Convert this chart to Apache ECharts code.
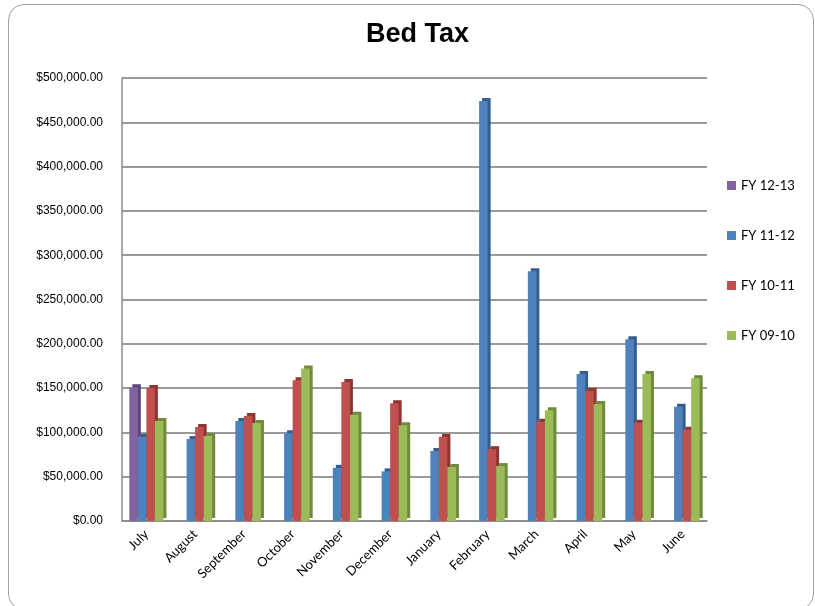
<!DOCTYPE html>
<html><head><meta charset="utf-8">
<script src="https://cdn.jsdelivr.net/npm/echarts@6/dist/echarts.min.js"></script>
<style>
html,body{margin:0;padding:0;background:#fff;}
#frame{position:absolute;left:8px;top:4px;width:806px;height:606px;border:1px solid #a0a0a0;border-radius:16px;box-sizing:border-box;}
#chart{position:absolute;left:0;top:0;width:815px;height:606px;}
</style></head>
<body>
<div id="frame"></div>
<div id="chart"></div>
<script>
var months = ['July','August','September','October','November','December','January','February','March','April','May','June'];
var seriesNames = ['FY 12-13','FY 11-12','FY 10-11','FY 09-10'];
var fy1213 = [151000, null, null, null, null, null, null, null, null, null, null, null];
var fy1112 = [95000, 92500, 113000, 99000, 60000, 56000, 79000, 474000, 282000, 166000, 205000, 129000];
var fy1011 = [150000, 106000, 118500, 159000, 157000, 133000, 95000, 81000, 112000, 147000, 111000, 103000];
var fy0910 = [113000, 96000, 110500, 172000, 120000, 108000, 61000, 62000, 125000, 132000, 166000, 161000];
var yTicks = [0, 50000, 100000, 150000, 200000, 250000, 300000, 350000, 400000, 450000, 500000];

var colors = ['#8064A2','#4F81BD','#C0504D','#9BBB59'];
var sideColors = ['#5c4677','#375d8c','#8e3532','#6f8a3a'];
var dataSets = [fy1213, fy1112, fy1011, fy0910];

var chart = echarts.init(document.getElementById('chart'));
function fmt(v){
  return '$' + v.toLocaleString('en-US',{minimumFractionDigits:2,maximumFractionDigits:2});
}
chart.setOption({
  animation:false,
  title:{text:'Bed Tax',left:361,top:16,textStyle:{fontFamily:'Liberation Sans',fontSize:27,fontWeight:'bold',color:'#000'}},
  legend:{orient:'vertical',left:722,top:174,itemGap:37,itemWidth:9,itemHeight:9,icon:'rect',
    data:seriesNames,textStyle:{fontFamily:'Lato',fontSize:13,color:'#000'}},
  grid:{left:122,right:108,top:78,bottom:85},
  xAxis:{type:'category',data:months,
    axisLine:{lineStyle:{color:'#8c8c8c',width:1.5}},
    axisTick:{show:false},
    axisLabel:{rotate:45,interval:0,margin:11,fontFamily:'Lato',fontSize:13,color:'#000'}},
  yAxis:{type:'value',min:0,max:500000,interval:50000,
    axisLine:{show:true,lineStyle:{color:'#8c8c8c',width:1.5}},
    axisTick:{show:false},
    splitLine:{lineStyle:{color:'#9a9a9a',width:2}},
    axisLabel:{formatter:fmt,margin:19,fontFamily:'Liberation Sans',fontSize:12,color:'#000'}},
  series:dataSets.map(function(d,i){
    return {name:seriesNames[i],type:'bar',data:d,barGap:'0%',barCategoryGap:'30%',
      itemStyle:{color:colors[i],shadowColor:sideColors[i],shadowBlur:0,shadowOffsetX:3,shadowOffsetY:-3}};
  })
});
</script>
</body></html>
